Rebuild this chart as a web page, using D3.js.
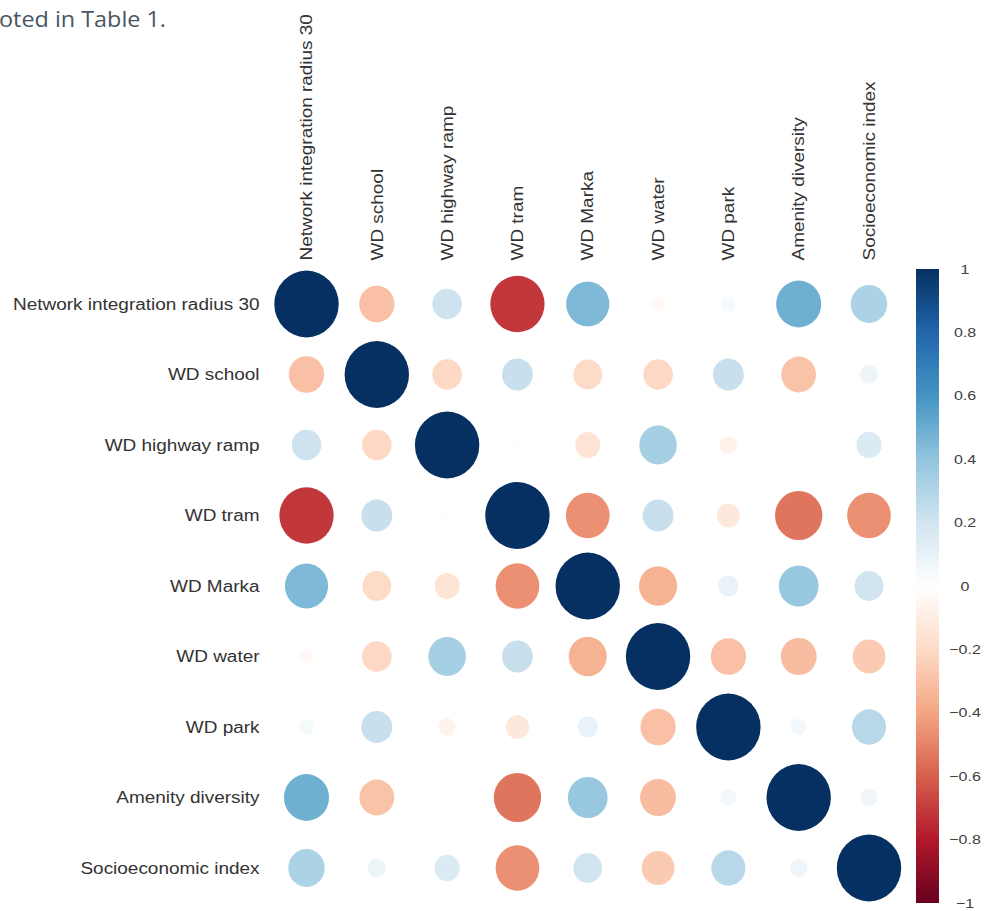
<!DOCTYPE html>
<html>
<head>
<meta charset="utf-8">
<script src="https://cdn.jsdelivr.net/npm/d3@7"></script>
<style>
  html, body { margin: 0; padding: 0; background: #ffffff; overflow: hidden; }
  svg { display: block; }
</style>
</head>
<body>
<svg id="chart" width="985" height="911"></svg>
<script>
// ---- data ----
const variables = [
  "Network integration radius 30",
  "WD school",
  "WD highway ramp",
  "WD tram",
  "WD Marka",
  "WD water",
  "WD park",
  "Amenity diversity",
  "Socioeconomic index"
];

const correlations = [
  [ 1.00, -0.30,  0.21, -0.71,  0.45, -0.04,  0.05,  0.49,  0.32],
  [-0.30,  1.00, -0.21,  0.23, -0.20, -0.21,  0.23, -0.29,  0.08],
  [ 0.21, -0.21,  1.00, -0.01, -0.15,  0.34, -0.07,  0.005, 0.155],
  [-0.71,  0.23, -0.01,  1.00, -0.46,  0.23, -0.13, -0.54, -0.46],
  [ 0.45, -0.20, -0.15, -0.46,  1.00, -0.35,  0.10,  0.38,  0.20],
  [-0.04, -0.21,  0.34,  0.23, -0.35,  1.00, -0.30, -0.31, -0.26],
  [ 0.05,  0.23, -0.07, -0.13,  0.10, -0.30,  1.00,  0.06,  0.28],
  [ 0.49, -0.29,  0.005,-0.54,  0.38, -0.31,  0.06,  1.00,  0.07],
  [ 0.32,  0.08,  0.155,-0.46,  0.20, -0.26,  0.28,  0.07,  1.00]
];

const colorbarTicks = [1, 0.8, 0.6, 0.4, 0.2, 0, -0.2, -0.4, -0.6, -0.8, -1];
const captionText = "oted in Table 1.";

// ---- layout ----
const svg = d3.select("#chart");
const labelFont = "'Liberation Sans', Arial, Helvetica, sans-serif";
const stretch = 1.2;

const x = d3.scalePoint().domain(variables).range([306.5, 869]);
const y = d3.scalePoint().domain(variables).range([304, 868]);

// RdBu with a pure white centre, piecewise linear
const rdbu = d3.schemeRdBu[11].slice();
rdbu[5] = "#ffffff";
const color = d3.scaleSequential(d3.piecewise(d3.interpolateRgb, rdbu)).domain([-1, 1]);
const rx = d3.scaleSqrt().domain([0, 1]).range([0, 32.2]);
const ry = d3.scaleSqrt().domain([0, 1]).range([0, 33.4]);

// caption fragment at top-left
svg.append("text")
  .attr("x", -1).attr("y", 26.5)
  .attr("font-family", "'Open Sans', 'Noto Sans', sans-serif")
  .attr("font-size", 21)
  .attr("textLength", 167)
  .attr("lengthAdjust", "spacingAndGlyphs")
  .attr("fill", "#4a5562")
  .text(captionText);

// cells
const cells = [];
correlations.forEach((row, i) => row.forEach((v, j) => cells.push({row: variables[i], col: variables[j], v})));

svg.append("g").selectAll("ellipse")
  .data(cells)
  .join("ellipse")
  .attr("cx", d => x(d.col))
  .attr("cy", d => y(d.row))
  .attr("rx", d => rx(Math.abs(d.v)))
  .attr("ry", d => ry(Math.abs(d.v)))
  .attr("fill", d => color(d.v));

// row labels
svg.append("g").selectAll("text")
  .data(variables)
  .join("text")
  .attr("transform", d => `translate(259.5,${y(d)}) scale(${stretch},1)`)
  .attr("dy", "0.36em")
  .attr("text-anchor", "end")
  .attr("font-family", labelFont)
  .attr("font-size", 15.8)
  .attr("fill", "#333333")
  .text(d => d);

// column labels
svg.append("g").selectAll("text")
  .data(variables)
  .join("text")
  .attr("transform", d => `translate(${x(d)},260.5) rotate(-90) scale(${stretch},1)`)
  .attr("dy", "0.36em")
  .attr("text-anchor", "start")
  .attr("font-family", labelFont)
  .attr("font-size", 15.8)
  .attr("fill", "#333333")
  .text(d => d);

// colorbar
const cbY = d3.scaleLinear().domain([-1, 1]).range([903, 269]);
const defs = svg.append("defs");
const grad = defs.append("linearGradient")
  .attr("id", "cbgrad")
  .attr("x1", 0).attr("y1", 1).attr("x2", 0).attr("y2", 0);
d3.range(0, 1.0001, 0.025).forEach(t => {
  grad.append("stop")
    .attr("offset", t)
    .attr("stop-color", color(-1 + 2 * t));
});
svg.append("rect")
  .attr("x", 916).attr("y", cbY(1))
  .attr("width", 23).attr("height", cbY(-1) - cbY(1))
  .attr("fill", "url(#cbgrad)");

const fmt = d3.format("~g");
svg.append("g").selectAll("text")
  .data(colorbarTicks)
  .join("text")
  .attr("transform", d => `translate(965,${cbY(d)}) scale(1.25,1)`)
  .attr("dy", "0.36em")
  .attr("text-anchor", "middle")
  .attr("font-family", labelFont)
  .attr("font-size", 12.8)
  .attr("fill", "#404040")
  .text(d => fmt(d));
</script>
</body>
</html>
